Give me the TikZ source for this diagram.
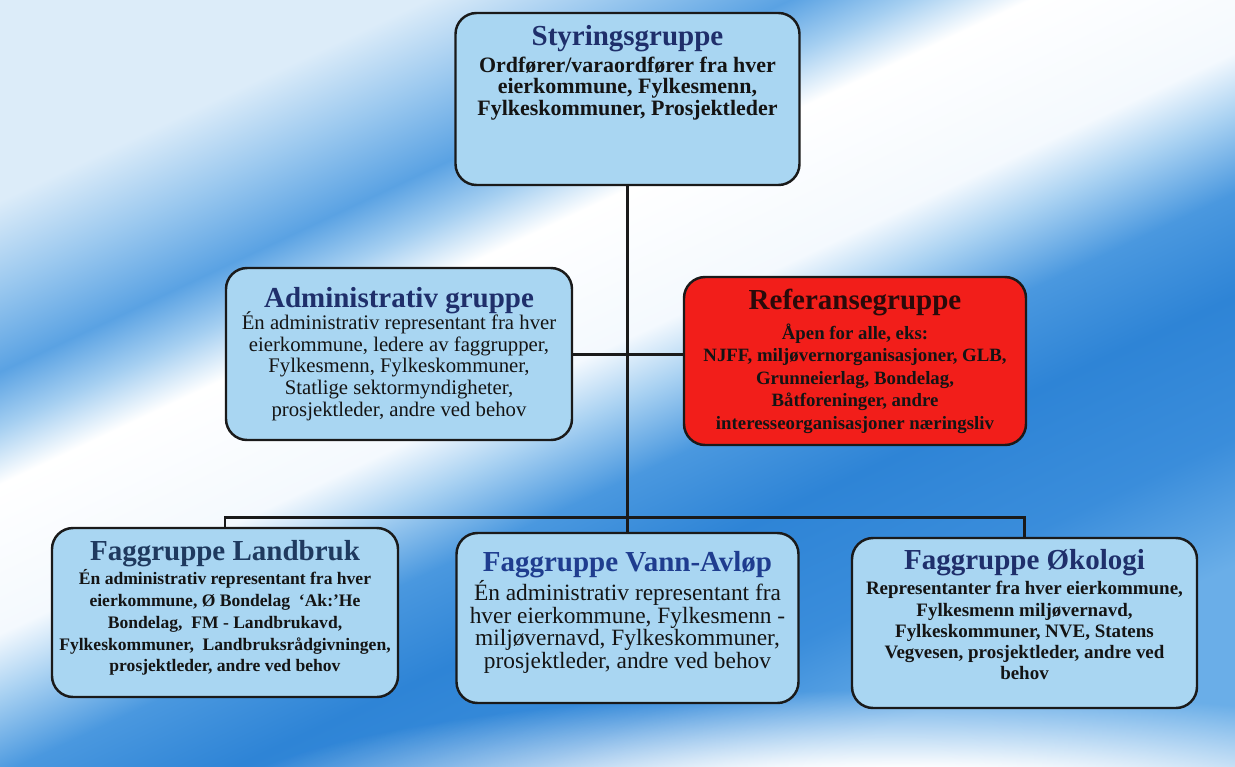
\documentclass[tikz,border=0pt]{standalone}
\usepackage{fontspec}
\setmainfont{Liberation Serif}
\usetikzlibrary{fadings}

\definecolor{boxblue}{HTML}{A9D6F2}
\definecolor{refred}{HTML}{F21E1A}
\definecolor{boxline}{HTML}{1A1A1A}
\definecolor{bodyblack}{HTML}{141414}
\definecolor{navy}{HTML}{1F2F6B}
\definecolor{refdark}{HTML}{2A0A0A}
\definecolor{landnavy}{HTML}{1F3A5F}
\definecolor{vannblue}{HTML}{1F3D8F}
% background colours
\definecolor{bgA}{HTML}{DCECF9}
\definecolor{bgB}{HTML}{9CC9EF}
\definecolor{bgC}{HTML}{5AA2E3}
\definecolor{bgD}{HTML}{A5CFF1}
\definecolor{bgE}{HTML}{F4F9FE}
\definecolor{bgF}{HTML}{AAD2F2}
\definecolor{bgG}{HTML}{4A98DF}
\definecolor{bgH}{HTML}{2E84D6}
\definecolor{bgI}{HTML}{3A8DDB}
\definecolor{bgJ}{HTML}{6AAEE8}

\pgfdeclarehorizontalshading{bands}{100bp}{color(0bp)=(bgA); color(26.5bp)=(bgA);
  color(30.7bp)=(bgB); color(35bp)=(bgC); color(37.8bp)=(bgD); color(40.6bp)=(white);
  color(48bp)=(bgE); color(51bp)=(bgF); color(55bp)=(bgG); color(60.1bp)=(bgH);
  color(67.1bp)=(bgI); color(73.5bp)=(bgJ); color(100bp)=(bgJ)}
\pgfdeclareradialshading{softcore}{\pgfpointorigin}{color(0bp)=(pgftransparent!0);
  color(10bp)=(pgftransparent!0); color(25bp)=(pgftransparent!100); color(50bp)=(pgftransparent!100)}
\pgfdeclarefading{soft bottom}{\pgfuseshading{softcore}}

\tikzset{
  grp/.style={draw=boxline, line width=1.4pt, rounded corners=12pt, fill=boxblue,
    align=center, inner sep=0pt, text=bodyblack,
    execute at begin node={\lineskiplimit=-20pt\lineskip=0pt}},
  conn/.style={draw=boxline, line width=1.7pt},
}
\newcommand{\grptitle}[2][navy]{{\color{#1}\fontsize{16.5}{12}\selectfont\bfseries #2}}

\begin{document}
\begin{tikzpicture}
    \shade[shading=bands, shading angle=-64.8] (0,0) rectangle (24.7,-15.32);
    \begin{scope}
      \clip (0,0) rectangle (24.7,-15.32);
      \fill[white, path fading=soft bottom] (18,-16.4) ellipse (14 and 2.6);
    \end{scope}
    \useasboundingbox (0,0) rectangle (24.7,-15.32);

    \node[grp, minimum width=6.88cm, minimum height=3.44cm, font=\fontsize{12.5}{12}\selectfont\bfseries]
      (Sty) at (12.55,-1.98) {\grptitle{Styringsgruppe}\\[3.8pt] Ordfører/varaordfører fra hver\\
      eierkommune, Fylkesmenn,\\ Fylkeskommuner, Prosjektleder\rule[-33pt]{0pt}{0pt}};
    \node[grp, minimum width=6.92cm, minimum height=3.44cm, font=\fontsize{11.8}{12.3}\selectfont]
      (Adm) at (7.98,-7.08) {\grptitle{Administrativ gruppe}\\[0.3pt] Én administrativ representant fra hver\\
      eierkommune, ledere av faggrupper,\\ Fylkesmenn, Fylkeskommuner,\\
      Statlige sektormyndigheter,\\ prosjektleder, andre ved behov};
    \node[grp, fill=refred, minimum width=6.84cm, minimum height=3.36cm, font=\fontsize{10.7}{12.8}\selectfont\bfseries]
      (Ref) at (17.10,-7.22) {\grptitle[refdark]{Referansegruppe}\\[4.2pt] Åpen for alle, eks:\\
      NJFF, miljøvernorganisasjoner, GLB,\\ Grunneierlag, Bondelag,\\ Båtforeninger, andre\\
      interesseorganisasjoner næringsliv};
    \node[grp, minimum width=6.92cm, minimum height=3.38cm, font=\fontsize{10}{12.4}\selectfont\bfseries]
      (Land) at (4.50,-12.25) {\grptitle[landnavy]{Faggruppe Landbruk}\\[1.6pt] Én administrativ representant fra hver\\
      eierkommune, Ø Bondelag \ `Ak:'He\\ Bondelag, \ FM - Landbrukavd,\\
      Fylkeskommuner, \ Landbruksrådgivningen,\\ prosjektleder, andre ved behov\rule[-7.5pt]{0pt}{0pt}};
    \node[grp, minimum width=6.84cm, minimum height=3.40cm, font=\fontsize{13.3}{12.9}\selectfont]
      (Vann) at (12.55,-12.36) {\grptitle[vannblue]{Faggruppe Vann-Avløp}\\[3.4pt] Én administrativ representant fra\\
      hver eierkommune, Fylkesmenn -\\ miljøvernavd, Fylkeskommuner,\\ prosjektleder, andre ved behov\rule[-9pt]{0pt}{0pt}};
    \node[grp, minimum width=6.90cm, minimum height=3.40cm, font=\fontsize{10.8}{12.1}\selectfont\bfseries]
      (Oko) at (20.49,-12.46) {\grptitle{Faggruppe Økologi}\\[2.4pt] Representanter fra hver eierkommune,\\
      Fylkesmenn miljøvernavd,\\ Fylkeskommuner, NVE, Statens\\ Vegvesen, prosjektleder, andre ved\\ behov\rule[-9.7pt]{0pt}{0pt}};

    \coordinate (bus) at (12.55,-10.34);
    \draw[conn] (Sty) -- (Vann);
    \draw[conn] (Adm.east) -- (Adm.east -| Ref.west);
    \draw[conn] (Land.north) |- (bus) -| (Oko.north);
\end{tikzpicture}
\end{document}
